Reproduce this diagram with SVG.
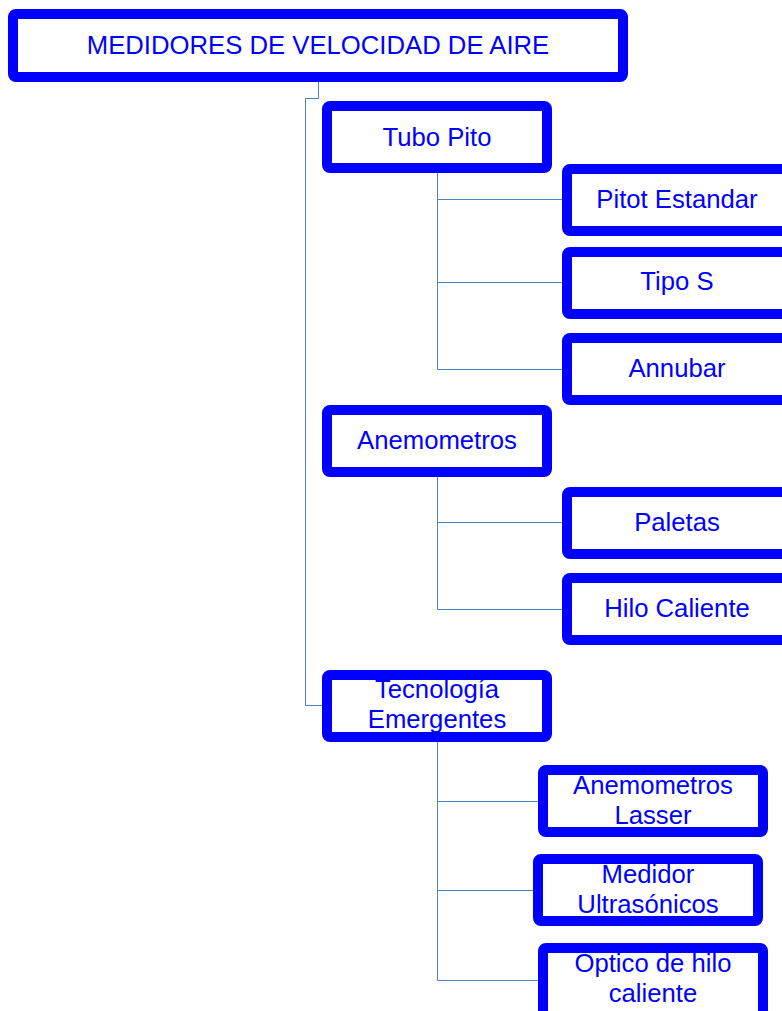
<svg xmlns="http://www.w3.org/2000/svg" width="782" height="1011" viewBox="0 0 782 1011">
  <style>
    .box { fill: #ffffff; stroke: #0000ff; stroke-width: 10; }
    .lbl { font-family: "Liberation Sans", Arial, sans-serif; font-size: 25.7px; fill: #0000ff; text-anchor: middle; }
    .wire { fill: none; stroke: #4f81bd; stroke-width: 1; }
  </style>
  <rect width="782" height="1011" fill="#ffffff"/>

  <!-- connectors -->
  <g id="connectors">
    <polyline class="wire" points="318.5,82 318.5,98.5 305.5,98.5 305.5,705.5 322,705.5"/>
    <polyline class="wire" points="437.5,173 437.5,369.5 562,369.5"/>
    <line class="wire" x1="437.5" y1="199.5" x2="562" y2="199.5"/>
    <line class="wire" x1="437.5" y1="282.5" x2="562" y2="282.5"/>
    <polyline class="wire" points="437.5,477 437.5,609.5 562,609.5"/>
    <line class="wire" x1="437.5" y1="522.5" x2="562" y2="522.5"/>
    <polyline class="wire" points="437.5,742 437.5,980.5 538,980.5"/>
    <line class="wire" x1="437.5" y1="801.5" x2="538" y2="801.5"/>
    <line class="wire" x1="437.5" y1="890.5" x2="533" y2="890.5"/>
  </g>

  <g id="root">
    <rect class="box" x="13" y="14" width="610" height="63" rx="3"/>
    <text class="lbl" x="318" y="54">MEDIDORES DE VELOCIDAD DE AIRE</text>
  </g>

  <g id="tubo-pito">
    <rect class="box" x="327" y="106" width="220" height="62" rx="3"/>
    <text class="lbl" x="437" y="146">Tubo Pito</text>
  </g>
  <g id="pitot-estandar">
    <rect class="box" x="567" y="169" width="225" height="62" rx="3"/>
    <text class="lbl" x="677" y="208">Pitot Estandar</text>
  </g>
  <g id="tipo-s">
    <rect class="box" x="567" y="252" width="225" height="62" rx="3"/>
    <text class="lbl" x="677" y="290">Tipo S</text>
  </g>
  <g id="annubar">
    <rect class="box" x="567" y="338" width="225" height="62" rx="3"/>
    <text class="lbl" x="677" y="377">Annubar</text>
  </g>

  <g id="anemometros">
    <rect class="box" x="327" y="410" width="220" height="62" rx="3"/>
    <text class="lbl" x="437" y="449">Anemometros</text>
  </g>
  <g id="paletas">
    <rect class="box" x="567" y="492" width="225" height="62" rx="3"/>
    <text class="lbl" x="677" y="531">Paletas</text>
  </g>
  <g id="hilo-caliente">
    <rect class="box" x="567" y="578" width="225" height="62" rx="3"/>
    <text class="lbl" x="677" y="617">Hilo Caliente</text>
  </g>

  <g id="tecnologia-emergentes">
    <rect class="box" x="327" y="675" width="220" height="62" rx="3"/>
    <text class="lbl" x="437" y="698">Tecnología</text>
    <text class="lbl" x="437" y="728">Emergentes</text>
  </g>
  <g id="anemometros-lasser">
    <rect class="box" x="543" y="770" width="220" height="62" rx="3"/>
    <text class="lbl" x="653" y="794">Anemometros</text>
    <text class="lbl" x="653" y="824">Lasser</text>
  </g>
  <g id="medidor-ultrasonicos">
    <rect class="box" x="538" y="859" width="220" height="62" rx="3"/>
    <text class="lbl" x="648" y="883">Medidor</text>
    <text class="lbl" x="648" y="913">Ultrasónicos</text>
  </g>
  <g id="optico-hilo-caliente">
    <rect class="box" x="543" y="948" width="220" height="72" rx="3"/>
    <text class="lbl" x="653" y="972">Optico de hilo</text>
    <text class="lbl" x="653" y="1002">caliente</text>
  </g>
</svg>
